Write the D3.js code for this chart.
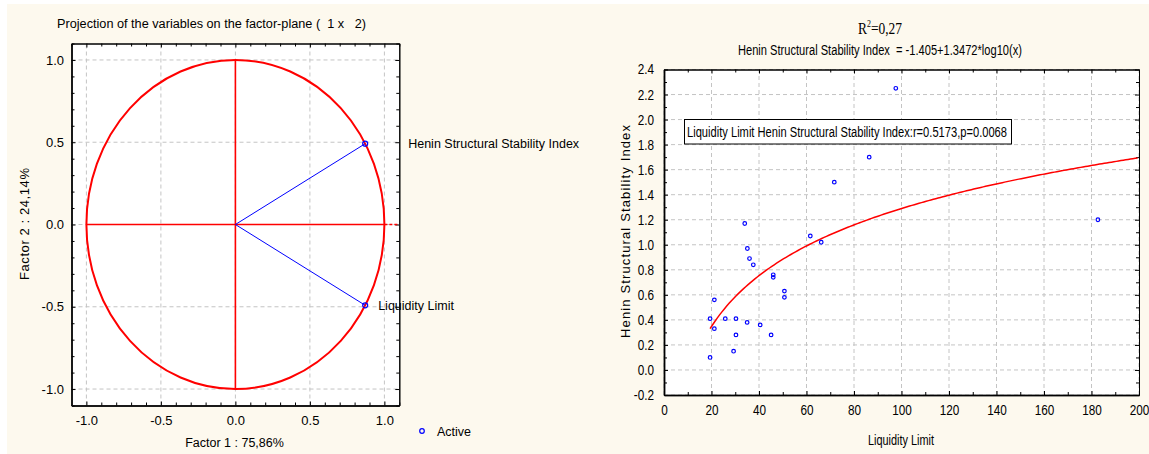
<!DOCTYPE html>
<html>
<head>
<meta charset="utf-8">
<script src="https://cdn.jsdelivr.net/npm/d3@7"></script>
<style>
  body { margin: 0; background: #ffffff; }
  svg { display: block; }
  text { font-family: "Liberation Sans", Arial, sans-serif; fill: #000; white-space: pre; }
  .narrow { font-family: "Liberation Sans Narrow", "Arial Narrow", "Liberation Sans", sans-serif; }
</style>
</head>
<body>
<svg id="chart"></svg>
<script>
// Left panel: factor loadings
const variableNames = ["Henin Structural Stability Index", "Liquidity Limit"];
const factor1Loadings = [0.871, 0.871];
const factor2Loadings = [0.491, -0.491];
const loadingTicks = [-1.0, -0.5, 0.0, 0.5, 1.0];

// Right panel: scatter of Liquidity Limit vs Henin index
const liquidityLimit = [19.4, 19.4, 21.2, 21.2, 25.8, 29.3, 30.3, 30.3, 34.0, 35.1, 35.0, 36.0, 37.6,
                        40.5, 45.1, 46.0, 46.0, 50.7, 50.7, 61.6, 66.2, 71.7, 86.4, 97.6, 182.7];
const heninIndex = [0.10, 0.41, 0.56, 0.33, 0.41, 0.15, 0.41, 0.28, 1.17, 0.97, 0.38, 0.89, 0.84,
                    0.36, 0.28, 0.76, 0.74, 0.63, 0.58, 1.07, 1.02, 1.50, 1.70, 2.25, 1.20];
const fitIntercept = -1.405;
const fitSlope = 1.3472;
const xTicksRight = [0, 20, 40, 60, 80, 100, 120, 140, 160, 180, 200];
const yTicksRight = [-0.2, 0.0, 0.2, 0.4, 0.6, 0.8, 1.0, 1.2, 1.4, 1.6, 1.8, 2.0, 2.2, 2.4];

const width = 1149;
const height = 454;

const svg = d3.select("#chart")
    .attr("width", width)
    .attr("height", height);

// cream page background
svg.append("rect")
    .attr("x", 7).attr("y", 4)
    .attr("width", width - 7).attr("height", height - 4)
    .attr("fill", "#fdf9ee");

// plain hyphen instead of unicode minus
const fmt1 = d => d3.format(".1f")(d).replace("\u2212", "-");

// squeeze a text to look like a narrow face
function squeeze(sel, k) {
    sel.each(function() {
        const w = this.getComputedTextLength();
        if (w > 0) d3.select(this).attr("textLength", w * k).attr("lengthAdjust", "spacingAndGlyphs");
    });
}

// helper: frame + inward ticks on all four sides
function drawFrame(g, x, y, major, minorX, minorY, xFmt, yFmt, xPad, yPad, narrow) {
    const [x0, x1] = x.range();
    const [y0, y1] = y.range();

    g.append("rect")
        .attr("x", x0).attr("y", y1)
        .attr("width", x1 - x0).attr("height", y0 - y1)
        .attr("fill", "#ffffff");

    // grid
    g.selectAll(".vgrid").data(major.x).enter().append("line")
        .attr("x1", d => x(d)).attr("x2", d => x(d))
        .attr("y1", y0).attr("y2", y1)
        .attr("stroke", "#c4c4c4").attr("stroke-dasharray", "4,3");
    g.selectAll(".hgrid").data(major.y).enter().append("line")
        .attr("y1", d => y(d)).attr("y2", d => y(d))
        .attr("x1", x0).attr("x2", x1)
        .attr("stroke", "#c4c4c4").attr("stroke-dasharray", "4,3");

    const axes = g.append("g");
    // bottom
    const bx = axes.append("g").attr("transform", `translate(0,${y0})`);
    bx.call(d3.axisBottom(x).tickValues(major.x).tickFormat(xFmt).tickSizeInner(-4).tickSizeOuter(0).tickPadding(xPad));
    bx.append("g").call(d3.axisBottom(x).tickValues(minorX).tickFormat("").tickSizeInner(-3).tickSizeOuter(0));
    // left
    const ly = axes.append("g").attr("transform", `translate(${x0},0)`);
    ly.call(d3.axisLeft(y).tickValues(major.y).tickFormat(yFmt).tickSizeInner(-4).tickSizeOuter(0).tickPadding(yPad));
    ly.append("g").call(d3.axisLeft(y).tickValues(minorY).tickFormat("").tickSizeInner(-3).tickSizeOuter(0));
    // top
    const tx = axes.append("g").attr("transform", `translate(0,${y1})`);
    tx.call(d3.axisTop(x).tickValues(major.x).tickFormat("").tickSizeInner(-4).tickSizeOuter(0));
    tx.append("g").call(d3.axisTop(x).tickValues(minorX).tickFormat("").tickSizeInner(-3).tickSizeOuter(0));
    // right
    const ry = axes.append("g").attr("transform", `translate(${x1},0)`);
    ry.call(d3.axisRight(y).tickValues(major.y).tickFormat("").tickSizeInner(-4).tickSizeOuter(0));
    ry.append("g").call(d3.axisRight(y).tickValues(minorY).tickFormat("").tickSizeInner(-3).tickSizeOuter(0));

    axes.selectAll("line").attr("stroke", "#000");
    axes.selectAll(".domain").attr("stroke", "#000");
    bx.select(".domain").attr("stroke-width", 2).attr("stroke", "#333");
    ly.select(".domain").attr("stroke-width", 2).attr("stroke", "#333");
    const labels = axes.selectAll("text")
        .style("font-family", "'Liberation Sans', Arial, sans-serif")
        .style("font-size", narrow ? "14px" : "13px")
        .attr("fill", "#000");
    if (narrow) squeeze(labels, 0.84);
}

// ---------------- Left panel ----------------
const xL = d3.scaleLinear().domain([-1.1, 1.1]).range([71.5, 399.3]);
const yL = d3.scaleLinear().domain([-1.1, 1.1]).range([405.5, 43.5]);
const minorLoad = d3.range(-11, 12).map(d => d / 10).filter(d => Math.abs(d * 2 - Math.round(d * 2)) > 1e-6);

const left = svg.append("g");
drawFrame(left, xL, yL, { x: loadingTicks, y: loadingTicks }, minorLoad, minorLoad,
          fmt1, fmt1, 10, 7.5, false);

// unit circle and red axes
left.append("ellipse")
    .attr("cx", xL(0)).attr("cy", yL(0))
    .attr("rx", xL(1) - xL(0)).attr("ry", yL(0) - yL(1))
    .attr("fill", "none").attr("stroke", "#ff0000").attr("stroke-width", 2);
left.append("line")
    .attr("x1", xL(-1)).attr("x2", xL(1)).attr("y1", yL(0)).attr("y2", yL(0))
    .attr("stroke", "#ff0000").attr("stroke-width", 1.6);
left.append("line")
    .attr("x1", xL(1)).attr("x2", xL(1.1)).attr("y1", yL(0)).attr("y2", yL(0))
    .attr("stroke", "#ff0000").attr("stroke-width", 1.6).attr("stroke-dasharray", "3,2");
left.append("line")
    .attr("x1", xL(0)).attr("x2", xL(0)).attr("y1", yL(1)).attr("y2", yL(-1))
    .attr("stroke", "#ff0000").attr("stroke-width", 1.6);

// loading vectors
const loadings = variableNames.map((n, i) => ({ name: n, f1: factor1Loadings[i], f2: factor2Loadings[i] }));
const labelDx = [43, 13];
left.selectAll(".vec").data(loadings).enter().append("line")
    .attr("x1", xL(0)).attr("y1", yL(0))
    .attr("x2", d => xL(d.f1)).attr("y2", d => yL(d.f2))
    .attr("stroke", "#0000ff").attr("stroke-width", 1);
left.selectAll(".pt").data(loadings).enter().append("circle")
    .attr("cx", d => xL(d.f1)).attr("cy", d => yL(d.f2)).attr("r", 2.5)
    .attr("fill", "none").attr("stroke", "#0000ff").attr("stroke-width", 1.2);
left.selectAll(".lab").data(loadings).enter().append("text")
    .attr("x", (d, i) => xL(d.f1) + labelDx[i]).attr("y", d => yL(d.f2) + 4.5)
    .style("font-size", "12.5px")
    .text(d => d.name);

// titles
left.append("text")
    .attr("x", 57).attr("y", 28)
    .attr("textLength", 309).attr("lengthAdjust", "spacingAndGlyphs")
    .style("font-size", "12.5px")
    .text("Projection of the variables on the factor-plane (  1 x   2)");
left.append("text")
    .attr("x", 234.5).attr("y", 447)
    .attr("text-anchor", "middle")
    .style("font-size", "12.5px")
    .text("Factor 1 : 75,86%");
left.append("text")
    .attr("transform", "translate(29,224) rotate(-90)")
    .attr("text-anchor", "middle")
    .attr("textLength", 112).attr("lengthAdjust", "spacing")
    .style("font-size", "13px")
    .text("Factor 2 : 24,14%");

// legend
left.append("circle")
    .attr("cx", 422).attr("cy", 431).attr("r", 2.3)
    .attr("fill", "none").attr("stroke", "#0000ff").attr("stroke-width", 1.2);
left.append("text")
    .attr("x", 437).attr("y", 435.5)
    .style("font-size", "12.5px")
    .text("Active");

// ---------------- Right panel ----------------
const xR = d3.scaleLinear().domain([0, 200]).range([664, 1139]);
const yR = d3.scaleLinear().domain([-0.2, 2.4]).range([395, 69.5]);
const minorXR = d3.range(10, 200, 20);
const minorYR = d3.range(-1, 24, 2).map(d => d / 10);

const right = svg.append("g");
drawFrame(right, xR, yR, { x: xTicksRight, y: yTicksRight }, minorXR, minorYR,
          d3.format("d"), fmt1, 10, 10, true);

// fitted log curve
const xMin = d3.min(liquidityLimit);
const curveX = d3.range(xMin, 200.01, 1);
right.append("path")
    .datum(curveX)
    .attr("fill", "none").attr("stroke", "#ff0000").attr("stroke-width", 1.5)
    .attr("d", d3.line().x(d => xR(d)).y(d => yR(fitIntercept + fitSlope * Math.log10(d))));

// scatter points
const points = liquidityLimit.map((x, i) => ({ x: x, y: heninIndex[i] }));
right.selectAll(".dot").data(points).enter().append("circle")
    .attr("cx", d => xR(d.x)).attr("cy", d => yR(d.y)).attr("r", 1.8)
    .attr("fill", "none").attr("stroke", "#0000ff").attr("stroke-width", 1.2);

// correlation box
right.append("rect")
    .attr("x", 684.5).attr("y", 119.5).attr("width", 327).attr("height", 24.5)
    .attr("fill", "#ffffff").attr("stroke", "#000").attr("stroke-width", 1);
right.append("text")
    .attr("x", 687).attr("y", 136.5)
    .attr("textLength", 320).attr("lengthAdjust", "spacingAndGlyphs")
    .style("font-size", "14px")
    .text("Liquidity Limit Henin Structural Stability Index:r=0.5173,p=0.0068");

// titles
const rt = right.append("text")
    .attr("x", 880).attr("y", 34)
    .attr("text-anchor", "middle")
    .attr("textLength", 44).attr("lengthAdjust", "spacingAndGlyphs")
    .style("font-family", "'Liberation Serif', 'Times New Roman', serif")
    .style("font-size", "17px");
rt.append("tspan").text("R");
rt.append("tspan").attr("dy", -7).style("font-size", "10px").text("2");
rt.append("tspan").attr("dy", 7).text("=0,27");

right.append("text")
    .attr("x", 880).attr("y", 55)
    .attr("text-anchor", "middle")
    .attr("textLength", 284).attr("lengthAdjust", "spacingAndGlyphs")
    .style("font-size", "14px")
    .text("Henin Structural Stability Index  = -1.405+1.3472*log10(x)");

right.append("text")
    .attr("x", 901).attr("y", 445)
    .attr("text-anchor", "middle")
    .attr("textLength", 66).attr("lengthAdjust", "spacingAndGlyphs")
    .style("font-size", "14px")
    .text("Liquidity Limit");

right.append("text")
    .attr("transform", "translate(630,231.5) rotate(-90)")
    .attr("text-anchor", "middle")
    .attr("textLength", 213).attr("lengthAdjust", "spacing")
    .style("font-size", "13px")
    .text("Henin Structural Stability Index");
</script>
</body>
</html>
